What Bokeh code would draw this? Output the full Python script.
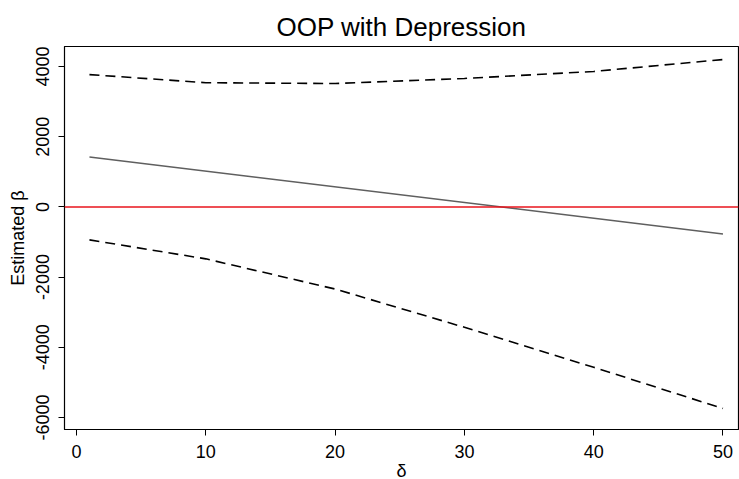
import math
from bokeh.plotting import figure
from bokeh.models import Range1d, Span, FixedTicker
from bokeh.embed import file_html
from bokeh.resources import INLINE

delta = [1, 10, 20, 30, 40, 50]
upper = [3770, 3540, 3515, 3660, 3860, 4200]
lower = [-940, -1480, -2340, -3430, -4570, -5745]
beta_x = [1, 50]
beta = [1420, -770]
x_ticks = [0, 10, 20, 30, 40, 50]
y_ticks = [-6000, -4000, -2000, 0, 2000, 4000]
y_tick_labels = {t: str(t) for t in y_ticks}

FONT = "Liberation Sans"

p = figure(frame_width=674, frame_height=383, output_backend="svg", toolbar_location=None,
           x_range=Range1d(-0.93, 51.2), y_range=Range1d(-6343, 4571),
           title="OOP with Depression",
           min_border_left=64, min_border_right=1, min_border_top=46, min_border_bottom=44)

p.title.align = "center"
p.title.text_font = FONT
p.title.text_font_size = "26px"
p.title.text_font_style = "normal"
p.title.text_color = "black"

p.outline_line_color = "black"
p.outline_line_width = 1.2
p.grid.visible = False
p.background_fill_color = "white"
p.border_fill_color = "white"

for ax in (p.xaxis[0], p.yaxis[0]):
    ax.axis_line_color = "black"
    ax.major_tick_line_color = "black"
    ax.major_tick_out = 6
    ax.major_tick_in = 0
    ax.minor_tick_line_color = None
    ax.major_label_text_font = FONT
    ax.major_label_text_font_size = "18px"
    ax.major_label_text_color = "black"
    ax.axis_label_text_font = FONT
    ax.axis_label_text_font_size = "18px"
    ax.axis_label_text_font_style = "normal"
    ax.axis_label_text_color = "black"

p.xaxis.ticker = FixedTicker(ticks=x_ticks)
p.yaxis.ticker = FixedTicker(ticks=y_ticks)
p.yaxis.major_label_overrides = y_tick_labels
p.yaxis.major_label_orientation = "vertical"
p.xaxis.axis_label = "δ"
p.yaxis.axis_label = "Estimated β"
p.xaxis.major_label_standoff = 9
p.xaxis.axis_label_standoff = 0
p.yaxis.major_label_standoff = 9
p.yaxis.axis_label_standoff = 6

p.line(delta, upper, line_color="black", line_width=1.6, line_dash="10 6")
p.line(delta, lower, line_color="black", line_width=1.6, line_dash="10 6")
p.line(beta_x, beta, line_color="#5f5f5f", line_width=1.5)
p.add_layout(Span(location=0, dimension="width", line_color="#e8141c", line_width=1.5))

open("out.html", "w").write(file_html(p, INLINE))
